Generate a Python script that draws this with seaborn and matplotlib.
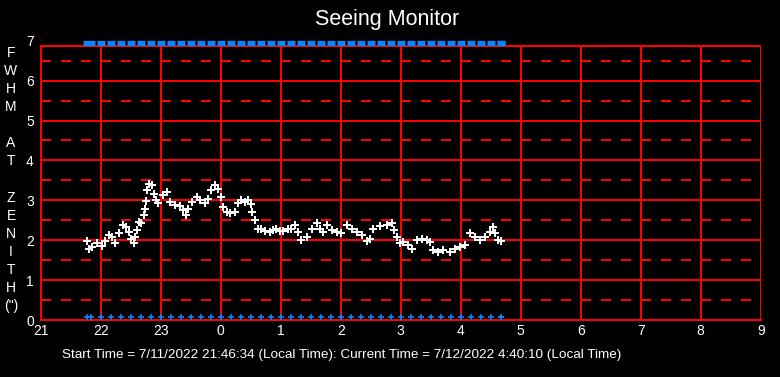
import matplotlib
matplotlib.use("Agg")
import matplotlib.pyplot as plt
import seaborn as sns
import numpy as np

# ---------------- data ----------------
# hours since midnight of 7/11 (24 = midnight 7/12)
fwhm_time = [21.772, 21.800, 21.855, 21.938, 22.022, 22.077, 22.143, 22.188, 22.243, 22.300,
             22.367, 22.422, 22.467, 22.510, 22.550, 22.577, 22.605, 22.633, 22.677, 22.717,
             22.743, 22.755, 22.772, 22.800, 22.855, 22.883, 22.922, 22.960, 23.043, 23.100,
             23.155, 23.238, 23.322, 23.377, 23.422, 23.460, 23.517, 23.600, 23.655, 23.738,
             23.793, 23.838, 23.905, 23.960, 24.005, 24.043, 24.100, 24.155, 24.233, 24.288,
             24.343, 24.400, 24.455, 24.500, 24.522, 24.567, 24.622, 24.677, 24.733, 24.817,
             24.872, 24.927, 24.983, 25.038, 25.122, 25.177, 25.233, 25.288, 25.343, 25.433,
             25.517, 25.600, 25.655, 25.710, 25.777, 25.850, 25.933, 26.000, 26.100, 26.183,
             26.267, 26.350, 26.433, 26.488, 26.543, 26.655, 26.767, 26.850, 26.888, 26.933,
             26.988, 27.043, 27.127, 27.183, 27.267, 27.350, 27.433, 27.488, 27.543, 27.627,
             27.710, 27.822, 27.905, 27.988, 28.072, 28.155, 28.238, 28.322, 28.405, 28.488,
             28.533, 28.572, 28.627, 28.672]
fwhm_value = [1.97, 1.78, 1.82, 1.92, 1.85, 1.98, 2.14, 2.08, 1.93, 2.17,
              2.37, 2.33, 2.21, 2.04, 1.92, 2.08, 2.25, 2.46, 2.42, 2.63,
              2.79, 2.98, 3.27, 3.42, 3.38, 3.17, 3.00, 2.92, 3.13, 3.21,
              2.96, 2.88, 2.85, 2.75, 2.63, 2.79, 2.96, 3.08, 3.00, 2.92,
              3.04, 3.25, 3.38, 3.29, 3.08, 2.83, 2.71, 2.67, 2.71, 2.92,
              3.00, 2.96, 3.00, 2.90, 2.71, 2.50, 2.29, 2.27, 2.23, 2.21,
              2.25, 2.29, 2.23, 2.23, 2.27, 2.29, 2.38, 2.21, 2.00, 2.08,
              2.29, 2.42, 2.27, 2.21, 2.38, 2.25, 2.21, 2.17, 2.38, 2.27,
              2.21, 2.13, 1.98, 2.04, 2.29, 2.35, 2.38, 2.42, 2.25, 2.08,
              1.93, 1.96, 1.88, 1.79, 2.00, 2.02, 2.00, 1.96, 1.75, 1.71,
              1.75, 1.71, 1.79, 1.83, 1.88, 2.17, 2.08, 2.00, 2.08, 2.21,
              2.32, 2.17, 2.00, 1.98]

# sample marks (start time, then every 10 minutes on the clock), in minutes after 21:00
sample_minutes = [46.57, 50, 60, 70, 80, 90, 100, 110, 120, 130, 140, 150, 160, 170, 180,
                  190, 200, 210, 220, 230, 240, 250, 260, 270, 280, 290, 300, 310, 320,
                  330, 340, 350, 360, 370, 380, 390, 400, 410, 420, 430, 440, 450, 460, 460.17]
sample_time = [21 + m / 60 for m in sample_minutes]

hour_ticks = [21, 22, 23, 24, 25, 26, 27, 28, 29, 30, 31, 32, 33]
hour_labels = ["21", "22", "23", "0", "1", "2", "3", "4", "5", "6", "7", "8", "9"]
fwhm_ticks = [0, 1, 2, 3, 4, 5, 6, 7]
half_levels = [0.5, 1.5, 2.5, 3.5, 4.5, 5.5, 6.5]
ylabel_letters = ["F", "W", "H", "M", "", "A", "T", "", "Z", "E", "N", "I", "T", "H", "(\")"]
title = "Seeing Monitor"
footer = "Start Time = 7/11/2022 21:46:34 (Local Time): Current Time = 7/12/2022 4:40:10 (Local Time)"

# ---------------- style ----------------
sns.set_theme(style="dark")
plt.rcParams["font.family"] = ["Liberation Sans", "DejaVu Sans"]
plt.rcParams["lines.scale_dashes"] = False

RED = "#FF0000"
BLUE = "#0A84FF"
LW = 1.44  # 2 px

W, H = 780, 377
fig = plt.figure(figsize=(W / 100, H / 100), dpi=100, facecolor="black")
x0, x1 = 40.7, 760.7
y0, y1 = 320.0, 40.7
ax = fig.add_axes([x0 / W, 1 - y0 / H, (x1 - x0) / W, (y0 - y1) / H])
ax.set_facecolor("black")
ax.set_xlim(21, 33)
ax.set_ylim(0, 7)

# grid
for x in hour_ticks:
    ax.axvline(x, color=RED, lw=LW, zorder=1, ymax=6.87 / 7, antialiased=False)
for y in fwhm_ticks[1:-1]:
    ax.axhline(y, color=RED, lw=LW, zorder=1, antialiased=False)
ax.axhline(6.87, color=RED, lw=LW, zorder=1, antialiased=False)
for y in half_levels:
    ax.axhline(y, color=RED, lw=LW, zorder=1, dashes=(7, 7.5), antialiased=False)

for s in ["top", "right"]:
    ax.spines[s].set_visible(False)
for s in ["left", "bottom"]:
    ax.spines[s].set_color(RED)
    ax.spines[s].set_linewidth(LW)
    ax.spines[s].set_antialiased(False)
ax.spines["left"].set_bounds(0, 6.87)

# data
sns.scatterplot(x=fwhm_time, y=fwhm_value, marker="+", color="white", s=36,
                linewidth=1.4, ax=ax, zorder=4)

# sample marks at top and bottom
top_y = [6.94] * len(sample_time)
bot_y = [0.07] * len(sample_time)
sns.scatterplot(x=sample_time, y=top_y, marker="_", color=BLUE, s=26,
                linewidth=3.8, ax=ax, zorder=5)
sns.scatterplot(x=sample_time, y=bot_y, marker="+", color=BLUE, s=16,
                linewidth=1.2, ax=ax, zorder=5)
for c in ax.collections:
    c.set_clip_on(False)

# ticks
ax.set_xticks(hour_ticks)
ax.set_xticklabels(hour_labels)
ax.set_yticks(fwhm_ticks)
ax.set_yticklabels([str(v) for v in fwhm_ticks])
ax.tick_params(axis="both", length=0, colors="white", labelsize=10)
ax.tick_params(axis="x", pad=3)
ax.tick_params(axis="y", pad=5)
ax.set_xlabel("")
ax.set_ylabel("")
ax.grid(False)

# title
fig.text(387 / W, 1 - 20 / H, title, color="white", fontsize=15.5,
         ha="center", va="center")

# vertical stacked y label
for i, ch in enumerate(ylabel_letters):
    if ch:
        fig.text(11 / W, 1 - (53 + 18.07 * i) / H, ch, color="white", fontsize=10,
                 ha="center", va="center")

# footer
fig.text(62 / W, 1 - 355 / H, footer, color="white", fontsize=9.7,
         ha="left", va="center")

fig.savefig("out.png", dpi=100, facecolor="black")
